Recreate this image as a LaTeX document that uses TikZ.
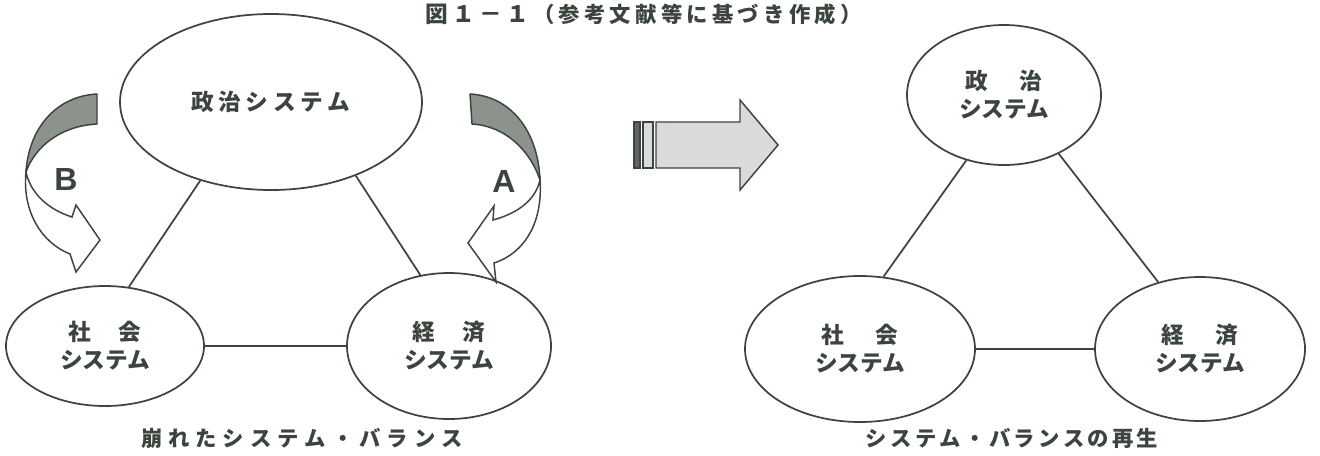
\documentclass[tikz,border=0pt]{standalone}
\usepackage{fontspec}
\setmainfont{Liberation Sans}
\newfontfamily\jp{Noto Sans CJK JP}
\usetikzlibrary{shapes.geometric}
\definecolor{ink}{RGB}{60,68,62}
\definecolor{bandgray}{RGB}{140,146,140}
\definecolor{arrowgray}{RGB}{216,219,215}
\definecolor{bargray}{RGB}{95,102,96}
\newcommand\jgap{\kern4.5pt}
\newcommand\pgap{\kern3.5pt}
\newcommand\wgap{\kern2.5pt}
\newcommand\tgap{\kern3.2pt}
\tikzset{
  sys/.style={ellipse, draw=ink, line width=1.3pt, inner sep=0pt, align=center, text=ink,
    font=\jp\bfseries\fontsize{17pt}{21pt}\selectfont},
  link/.style={draw=ink, line width=1.3pt},
  band/.style={draw=ink, line width=1.1pt, fill=bandgray, line join=round},
  twist/.style={draw=ink, line width=1.1pt, fill=white, line join=miter},
  letter/.style={font=\bfseries\fontsize{24pt}{24pt}\selectfont, text=ink, inner sep=0pt},
  captext/.style={font=\jp\bfseries\fontsize{16pt}{20pt}\selectfont, text=ink, inner sep=0pt},
  bigarrow/.style={draw=ink, line width=1.1pt, fill=arrowgray, line join=miter},
}
\begin{document}
\begin{tikzpicture}[x=0.75pt,y=-0.75pt]
\useasboundingbox[fill=white] (0,0) rectangle (1320,455);

% title
\node[captext, anchor=west] (title) at (425,14)
  {{\fontsize{17pt}{20pt}\selectfont 図\tgap １\tgap －\tgap １}\tgap （\tgap 参\tgap 考\tgap 文\tgap 献\tgap 等\tgap に\tgap 基\tgap づ\tgap き\tgap 作\tgap 成\tgap ）};

% ---------- left diagram ----------
\node[sys, minimum width=302*0.75pt, minimum height=176*0.75pt] (pol1) at (271,102)
  {政\pgap 治\pgap シ\pgap ス\pgap テ\pgap ム};
\node[sys, minimum width=198*0.75pt, minimum height=120*0.75pt] (soc1) at (105,346)
  {社\hspace{1.2em}会\\システム};
\node[sys, minimum width=204*0.75pt, minimum height=146*0.75pt] (eco1) at (449,346)
  {経\hspace{1.2em}済\\システム};

\draw[link] (pol1.228) -- (soc1.68);
\draw[link] (pol1.-41) -- (eco1.112);
\draw[link] (soc1.east) -- (eco1.west);

% B twisted arrow
\draw[twist] (26,172) .. controls (22,212) and (42,243) .. (70,254) -- (76,272) -- (100,240)
  -- (76,205) -- (72,217) .. controls (50,210) and (31,195) .. (26,172) -- cycle;
\draw[band] (97,94) .. controls (58,96) and (29,126) .. (26,172)
  .. controls (35,147) and (60,126) .. (97,124) -- cycle;
\node[letter] (lb) at (66,179) {B};

% A twisted arrow
\draw[twist] (540,180) .. controls (543,222) and (525,253) .. (494,263) -- (496,282) -- (468,243)
  -- (494,206) -- (493,220) .. controls (515,214) and (535,202) .. (540,180) -- cycle;
\draw[band] (470,94) .. controls (510,96) and (538,130) .. (540,180)
  .. controls (530,150) and (505,126) .. (472,124) -- cycle;
\node[letter] (la) at (504,181) {A};

% ---------- big arrow ----------
\fill[bargray] (634,122) rectangle (640,168);
\draw[ink, line width=0.8pt] (634,122) rectangle (640,168);
\draw[ink, line width=1pt, fill=arrowgray] (643,122) rectangle (653,168);
\draw[bigarrow] (656,122) -- (740,122) -- (740,100) -- (778,145) -- (740,190) -- (740,168)
  -- (656,168) -- cycle;

% ---------- right diagram ----------
\node[sys, minimum width=194*0.75pt, minimum height=140*0.75pt] (pol2) at (1004,95)
  {政\hspace{1.4em}治\\システム};
\node[sys, minimum width=230*0.75pt, minimum height=146*0.75pt] (soc2) at (860,349)
  {社\hspace{1.4em}会\\システム};
\node[sys, minimum width=210*0.75pt, minimum height=144*0.75pt] (eco2) at (1200,349)
  {経\hspace{1.4em}済\\システム};

\draw[link] (pol2.240) -- (soc2.72);
\draw[link] (pol2.-47) -- (eco2.122);
\draw[link] (soc2.east) -- (eco2.west);

% captions
\node[captext] (cap1) at (302,438)
  {崩\jgap れ\jgap た\jgap シ\jgap ス\jgap テ\jgap ム\jgap ・\jgap バ\jgap ラ\jgap ン\jgap ス};
\node[captext] (cap2) at (1012,438)
  {シ\wgap ス\wgap テ\wgap ム\wgap ・\wgap バ\wgap ラ\wgap ン\wgap ス\wgap の\wgap 再\wgap 生};
\end{tikzpicture}
\end{document}
